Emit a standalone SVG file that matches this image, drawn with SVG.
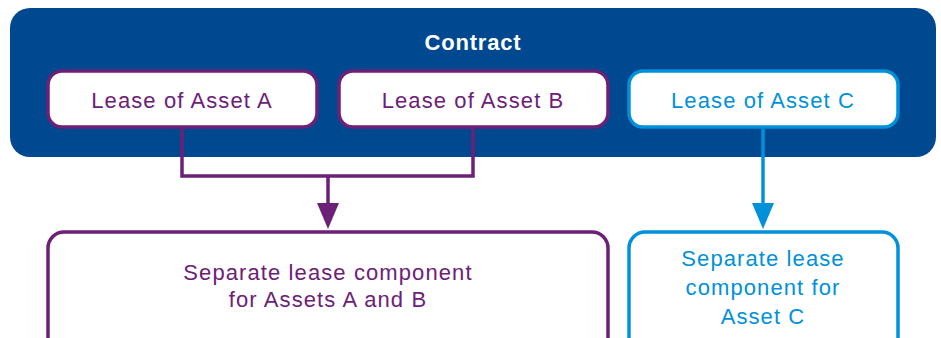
<svg xmlns="http://www.w3.org/2000/svg" width="941" height="338" viewBox="0 0 941 338">
<defs>
<style>
.t{font-family:"Liberation Sans",Arial,sans-serif;font-size:22px;letter-spacing:1.1px;text-anchor:middle}
.p{fill:#6d2077}
.b{fill:#0091da}
.bp{fill:#fff;stroke:#6d2077;stroke-width:3.5}
.bb{fill:#fff;stroke:#0091da;stroke-width:3.5}
.cp{fill:none;stroke:#6d2077;stroke-width:3.5}
.cb{fill:none;stroke:#0091da;stroke-width:3.5}
</style>
</defs>
<g id="contract">
<rect x="10" y="8" width="926" height="149" rx="20" fill="#004890"/>
<text x="473" y="50" class="t" style="font-weight:bold;fill:#fff;letter-spacing:0.8px">Contract</text>
</g>
<g id="leaseA">
<rect x="48" y="71" width="269" height="56" rx="14" class="bp"/>
<text x="182" y="108" class="t p">Lease of Asset A</text>
</g>
<g id="leaseB">
<rect x="339" y="71" width="269" height="56" rx="14" class="bp"/>
<text x="473" y="108" class="t p">Lease of Asset B</text>
</g>
<g id="leaseC">
<rect x="629" y="71" width="269" height="56" rx="14" class="bb"/>
<text x="763" y="108" class="t b">Lease of Asset C</text>
</g>
<g id="connectors">
<path d="M182,129 V176 H473 V129" class="cp"/>
<path d="M328,176 V204" class="cp"/>
<path d="M317,203 L339,203 L328,229 Z" fill="#6d2077"/>
<path d="M763,129 V204" class="cb"/>
<path d="M752,203 L774,203 L763,229 Z" fill="#0091da"/>
</g>
<g id="compAB">
<rect x="48" y="232" width="560" height="130" rx="16" class="bp"/>
<text x="328" y="280" class="t p">Separate lease component</text>
<text x="328" y="307" class="t p">for Assets A and B</text>
</g>
<g id="compC">
<rect x="629" y="232" width="269" height="130" rx="16" class="bb"/>
<text x="763" y="266" class="t b">Separate lease</text>
<text x="763" y="295" class="t b">component for</text>
<text x="763" y="324" class="t b">Asset C</text>
</g>
</svg>
